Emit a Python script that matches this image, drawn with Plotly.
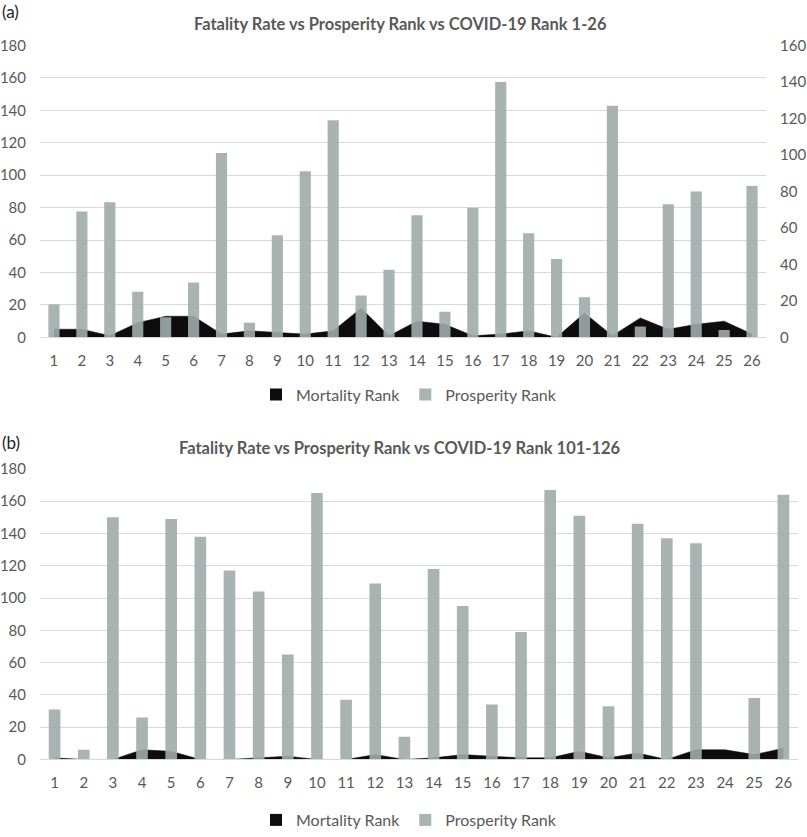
import plotly.graph_objects as go

ranks = list(range(1, 27))
tick_labels = [str(i) for i in ranks]

# Panel (a): COVID-19 rank 1-26
mortality_a = [5, 5, 1, 9, 13, 13, 2, 4, 3, 2, 4, 18, 1, 10, 8, 1, 2, 4, 0, 15, 1, 12, 5, 8, 10, 2]
prosperity_a = [18, 69, 74, 25, 11, 30, 101, 8, 56, 91, 119, 23, 37, 67, 14, 71, 140, 57, 43, 22, 127, 6, 73, 80, 4, 83]

# Panel (b): COVID-19 rank 101-126
mortality_b = [1, 0, 0, 6, 5, 0, 0, 1, 2, 0, 0, 3, 0, 1, 3, 2, 1, 1, 5, 1, 4, 0, 6, 6, 3, 7]
prosperity_b = [31, 6, 150, 26, 149, 138, 117, 104, 65, 165, 37, 109, 14, 118, 95, 34, 79, 167, 151, 33, 146, 137, 134, None, 38, 164]

titles = ["Fatality Rate vs Prosperity Rank vs COVID-19 Rank 1-26",
          "Fatality Rate vs Prosperity Rank vs COVID-19 Rank 101-126"]

FONT = "Lato"
TXT = "#595959"
GRID = "#d9d9d9"
BLACK = "#0d0d0d"
BAR = "rgba(160,171,169,0.9)"
W, H = 807, 837
L, R = 40, 9
PW = W - L - R

def px_x(p):
    return (p - L) / PW

def px_y(p):
    return 1 - p / H

fig = go.Figure()

# ---- panel (a)
fig.add_trace(go.Scatter(x=ranks, y=mortality_a, mode="lines", fill="tozeroy",
                         line=dict(color=BLACK, width=0.5), fillcolor=BLACK,
                         xaxis="x", yaxis="y", showlegend=False, hoverinfo="skip"))
fig.add_trace(go.Bar(x=[None], y=[None], name="Mortality Rank", marker_color=BLACK,
                     xaxis="x", yaxis="y3", legend="legend"))
fig.add_trace(go.Bar(x=ranks, y=prosperity_a, name="Prosperity Rank", marker_color=BAR,
                     xaxis="x", yaxis="y3", legend="legend"))

# ---- panel (b)
fig.add_trace(go.Scatter(x=ranks, y=mortality_b, mode="lines", fill="tozeroy",
                         line=dict(color=BLACK, width=0.5), fillcolor=BLACK,
                         xaxis="x2", yaxis="y2", showlegend=False, hoverinfo="skip"))
fig.add_trace(go.Bar(x=[None], y=[None], name="Mortality Rank", marker_color=BLACK,
                     xaxis="x2", yaxis="y4", legend="legend2"))
fig.add_trace(go.Bar(x=ranks, y=prosperity_b, name="Prosperity Rank", marker_color=BAR,
                     xaxis="x2", yaxis="y4", legend="legend2"))

tickfont = dict(family=FONT, size=15, color=TXT)
top_dom = [px_y(341), px_y(46)]
bot_dom = [px_y(767.7), px_y(474)]
xa_right = px_x(766)

xcommon = dict(range=[0.5, 26.5], tickmode="array", tickvals=ranks, ticktext=tick_labels,
               showgrid=False, showline=True, linecolor=GRID, linewidth=1,
               ticks="outside", ticklen=0, tickfont=tickfont, ticklabelstandoff=10,
               zeroline=False, automargin=False, fixedrange=True)
ycommon = dict(range=[0, 180], dtick=20, tick0=0, showgrid=True, gridcolor=GRID, gridwidth=1,
               zeroline=False, showline=False, ticks="outside", ticklen=0,
               tickfont=tickfont, ticklabelstandoff=10, automargin=False)

legend_common = dict(orientation="h", xanchor="left", yanchor="middle",
                     font=dict(family=FONT, size=16, color=TXT), bgcolor="rgba(0,0,0,0)",
                     traceorder="normal")

fig.update_layout(
    width=W, height=H,
    margin=dict(l=L, r=R, t=0, b=0),
    paper_bgcolor="white", plot_bgcolor="white",
    template="none",
    barmode="overlay", bargap=0.6,
    font=dict(family=FONT, color=TXT),
    xaxis=dict(domain=[0, xa_right], anchor="y", **xcommon),
    yaxis=dict(domain=top_dom, anchor="x", **ycommon),
    yaxis3=dict(range=[0, 160], dtick=20, tick0=0, overlaying="y", side="right", anchor="x",
                showgrid=False, zeroline=False, showline=False, ticks="outside", ticklen=0,
                tickfont=tickfont, ticklabelstandoff=10, automargin=False),
    xaxis2=dict(domain=[0, 1], anchor="y2", **xcommon),
    yaxis2=dict(domain=bot_dom, anchor="x2", **ycommon),
    yaxis4=dict(range=[0, 180], overlaying="y2", anchor="x2", visible=False),
    legend=dict(x=px_x(256), y=px_y(399), **legend_common),
    legend2=dict(x=px_x(256), y=px_y(829), **legend_common),
    annotations=[
        dict(text="<b>" + titles[0] + "</b>", x=px_x(400), y=px_y(24), xref="paper", yref="paper",
             showarrow=False, xanchor="center", yanchor="middle",
             font=dict(family=FONT, size=16.5, color=TXT)),
        dict(text="<b>" + titles[1] + "</b>", x=px_x(400), y=px_y(453), xref="paper", yref="paper",
             showarrow=False, xanchor="center", yanchor="middle",
             font=dict(family=FONT, size=16.5, color=TXT)),
        dict(text="(a)", x=px_x(0), y=px_y(12), xref="paper", yref="paper",
             showarrow=False, xanchor="left", yanchor="middle",
             font=dict(family=FONT, size=17, color="#222222")),
        dict(text="(b)", x=px_x(0), y=px_y(447), xref="paper", yref="paper",
             showarrow=False, xanchor="left", yanchor="middle",
             font=dict(family=FONT, size=17, color="#222222")),
    ],
)

fig.write_html("out.html", config={"displayModeBar": False},
               post_script="document.body.style.margin='0';document.body.style.overflow='hidden';")
